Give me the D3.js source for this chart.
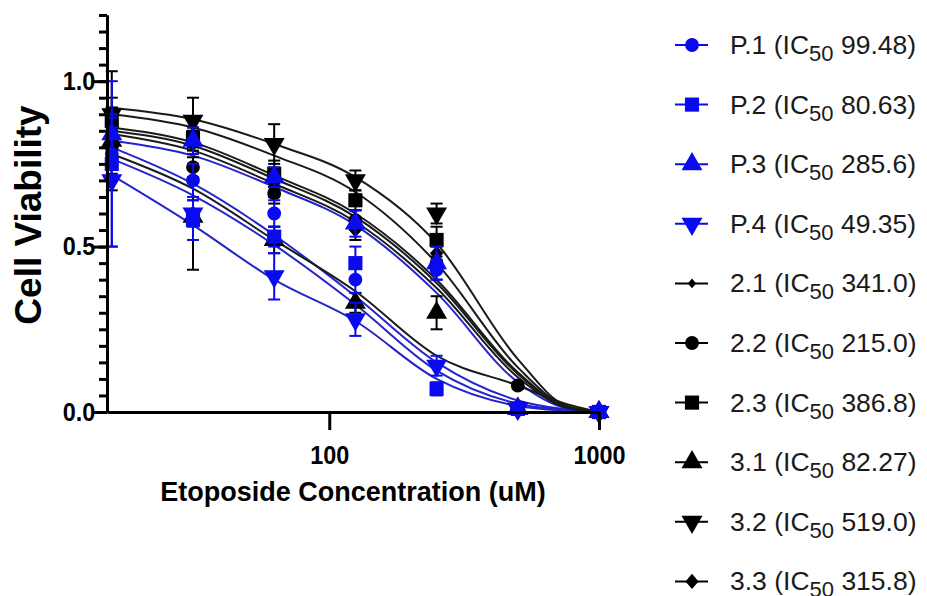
<!DOCTYPE html>
<html>
<head>
<meta charset="utf-8">
<script src="https://cdn.jsdelivr.net/npm/d3@7"></script>
<style>
  body { margin: 0; background: #fff; }
  text { font-family: "Liberation Sans", Arial, Helvetica, sans-serif; }
</style>
</head>
<body>
<svg width="927" height="596"></svg>
<script>
// concentrations (uM) where viability was measured
const conc = [15.625, 31.25, 62.5, 125, 250, 500, 1000]
// x values of the fitted curves
const fitConc = [15.625, 31.25, 62.5, 125, 250, 500, 750, 1000]

const names = ['P.1', 'P.2', 'P.3', 'P.4', '2.1', '2.2', '2.3', '3.1', '3.2', '3.3']
const ic50 = ['99.48', '80.63', '285.6', '49.35', '341.0', '215.0', '386.8', '82.27', '519.0', '315.8']

// mean cell viability, one row per series (same order as names)
const means = [
  [0.78, 0.70, 0.60, 0.40, 0.43, 0.01, 0],
  [0.75, 0.58, 0.53, 0.45, 0.07, 0.01, 0],
  [0.84, 0.82, 0.71, 0.57, 0.45, 0.01, 0],
  [0.70, 0.60, 0.41, 0.28, 0.14, 0.01, 0],
  [0.86, 0.82, 0.70, 0.58, 0.47, 0.01, 0],
  [0.80, 0.74, 0.66, 0.58, 0.45, 0.08, 0],
  [0.88, 0.83, 0.72, 0.64, 0.52, 0.01, 0],
  [0.82, 0.59, 0.52, 0.33, 0.30, 0.01, 0],
  [0.90, 0.88, 0.81, 0.70, 0.60, 0.01, 0],
  [0.85, 0.81, 0.68, 0.55, 0.48, 0.01, 0]
]
// error (+/-)
const errors = [
  [0.08, 0.05, 0.04, 0.04, 0.03, 0.01, 0],
  [0.25, 0.06, 0.03, 0.05, 0.02, 0.01, 0],
  [0.05, 0.04, 0.03, 0.04, 0.05, 0.01, 0],
  [0.20, 0.04, 0.07, 0.05, 0.03, 0.01, 0],
  [0.04, 0.03, 0.03, 0.03, 0.03, 0.01, 0],
  [0.05, 0.03, 0.03, 0.03, 0.02, 0.01, 0],
  [0.04, 0.03, 0.04, 0.03, 0.04, 0.01, 0],
  [0.10, 0.16, 0.04, 0.03, 0.05, 0.01, 0],
  [0.05, 0.07, 0.06, 0.03, 0.03, 0.01, 0],
  [0.18, 0.03, 0.03, 0.03, 0.03, 0.01, 0]
]
// fitted curve values at fitConc
const fits = [
  [0.80, 0.69, 0.535, 0.35, 0.15, 0.035, 0.008, 0],
  [0.765, 0.655, 0.505, 0.325, 0.125, 0.025, 0.006, 0],
  [0.82, 0.775, 0.68, 0.565, 0.36, 0.09, 0.012, 0],
  [0.716, 0.565, 0.40, 0.275, 0.10, 0.018, 0.004, 0],
  [0.86, 0.815, 0.715, 0.60, 0.40, 0.12, 0.016, 0],
  [0.84, 0.79, 0.69, 0.575, 0.375, 0.105, 0.014, 0],
  [0.90, 0.86, 0.775, 0.665, 0.45, 0.135, 0.018, 0],
  [0.78, 0.675, 0.52, 0.365, 0.17, 0.08, 0.025, 0],
  [0.92, 0.885, 0.81, 0.71, 0.51, 0.16, 0.02, 0],
  [0.85, 0.805, 0.705, 0.59, 0.39, 0.115, 0.015, 0]
]

const xTicks = [100, 1000]
const yMajor = [0, 0.5, 1.0]

// styling per series
const blue = '#0a0af0'
const colors = [blue, blue, blue, blue, '#000', '#000', '#000', '#000', '#000', '#000']
const lineColors = ['#2424cc', '#2424cc', '#2424cc', '#2424cc', '#1a1a1a', '#1a1a1a', '#1a1a1a', '#1a1a1a', '#1a1a1a', '#1a1a1a']
const shapes = ['circle', 'square', 'up', 'down', 'smalldiamond', 'circle', 'square', 'up', 'down', 'diamond']

const svg = d3.select('svg')
const left = 107
const bottom = 412

const x = d3.scaleLog().domain([15, 1000]).range([left, 599])
const y = d3.scaleLinear().domain([0, 1.2]).range([bottom, 15])

const diamondType = d3.symbolDiamond2 || d3.symbolDiamond
function symbolPath(shape) {
  if (shape === 'circle') return d3.symbol(d3.symbolCircle, 150)()
  if (shape === 'square') return d3.symbol(d3.symbolSquare, 200)()
  if (shape === 'up' || shape === 'down') return d3.symbol(d3.symbolTriangle, 190)()
  if (shape === 'smalldiamond') return d3.symbol(diamondType, 45)()
  return d3.symbol(diamondType, 110)()
}
const rot = shape => shape === 'down' ? ' rotate(180)'
  : (shape === 'diamond' || shape === 'smalldiamond') ? ' scale(1,1.15)' : ''

// fitted curves
const line = d3.line()
  .x(d => x(d[0]))
  .y(d => y(d[1]))
  .curve(d3.curveMonotoneX)

const curveG = svg.append('g')
fits.forEach((f, i) => {
  curveG.append('path')
    .attr('d', line(fitConc.map((c, j) => [c, f[j]])))
    .attr('fill', 'none')
    .attr('stroke', lineColors[i])
    .attr('stroke-width', 2)
})

// error bars and markers, drawn last series first so P.1 ends on top
const order = d3.range(names.length).reverse()
const pointG = svg.append('g')
order.forEach(i => {
  const g = pointG.append('g')
  conc.forEach((c, j) => {
    const cx = x(c)
    const m = means[i][j]
    const e = errors[i][j]
    if (e > 0) {
      g.append('line')
        .attr('x1', cx).attr('x2', cx)
        .attr('y1', y(m - e)).attr('y2', y(m + e))
        .attr('stroke', colors[i]).attr('stroke-width', 2)
      ;[m - e, m + e].forEach(v => {
        g.append('line')
          .attr('x1', cx - 6).attr('x2', cx + 6)
          .attr('y1', y(v)).attr('y2', y(v))
          .attr('stroke', colors[i]).attr('stroke-width', 2)
      })
    }
    g.append('path')
      .attr('d', symbolPath(shapes[i]))
      .attr('transform', `translate(${cx},${y(m)})${rot(shapes[i])}`)
      .attr('fill', colors[i])
  })
})

// axes
const yMinorAxis = svg.append('g')
  .attr('transform', `translate(${left},0)`)
  .call(d3.axisLeft(y).tickValues(y.ticks(24)).tickSize(8).tickFormat('').tickSizeOuter(0))

const yAxis = svg.append('g')
  .attr('transform', `translate(${left},0)`)
  .call(d3.axisLeft(y).tickValues(yMajor).tickSize(13).tickPadding(0)
    .tickFormat(d3.format('.1f')).tickSizeOuter(0))

const xAxis = svg.append('g')
  .attr('transform', `translate(0,${bottom})`)
  .call(d3.axisBottom(x).tickValues(xTicks).tickSize(18).tickPadding(16)
    .tickFormat(d3.format('d')).tickSizeOuter(0))

svg.selectAll('.domain, .tick line')
  .attr('stroke', '#000')
  .attr('stroke-width', 3)
svg.selectAll('.tick text')
  .attr('fill', '#000')
  .attr('transform', 'scale(0.9,1)')
  .style('font-size', '26px')
  .style('font-weight', 'bold')

// axis titles
svg.append('text')
  .attr('x', 353)
  .attr('y', 501)
  .attr('text-anchor', 'middle')
  .style('font-size', '27px')
  .style('font-weight', 'bold')
  .text('Etoposide Concentration (uM)')

svg.append('text')
  .attr('transform', 'translate(41,215) rotate(-90)')
  .attr('text-anchor', 'middle')
  .style('font-size', '37px')
  .style('font-weight', 'bold')
  .text('Cell Viability')

// legend
const legend = svg.append('g')
names.forEach((name, i) => {
  const ly = 45 + i * 59.6
  const row = legend.append('g').attr('transform', `translate(0,${ly})`)
  row.append('line')
    .attr('x1', 675).attr('x2', 708)
    .attr('stroke', colors[i]).attr('stroke-width', 2)
  row.append('path')
    .attr('d', symbolPath(shapes[i]))
    .attr('transform', `translate(692,0)${rot(shapes[i])}`)
    .attr('fill', colors[i])
  const t = row.append('text')
    .attr('x', 730)
    .attr('y', 9)
    .attr('fill', '#1a1a1a')
    .style('font-size', '26.5px')
  t.append('tspan').text(`${name} (IC`)
  t.append('tspan').attr('dy', 7).style('font-size', '22px').text('50')
  t.append('tspan').attr('dy', -7).text(` ${ic50[i]})`)
})
</script>
</body>
</html>
